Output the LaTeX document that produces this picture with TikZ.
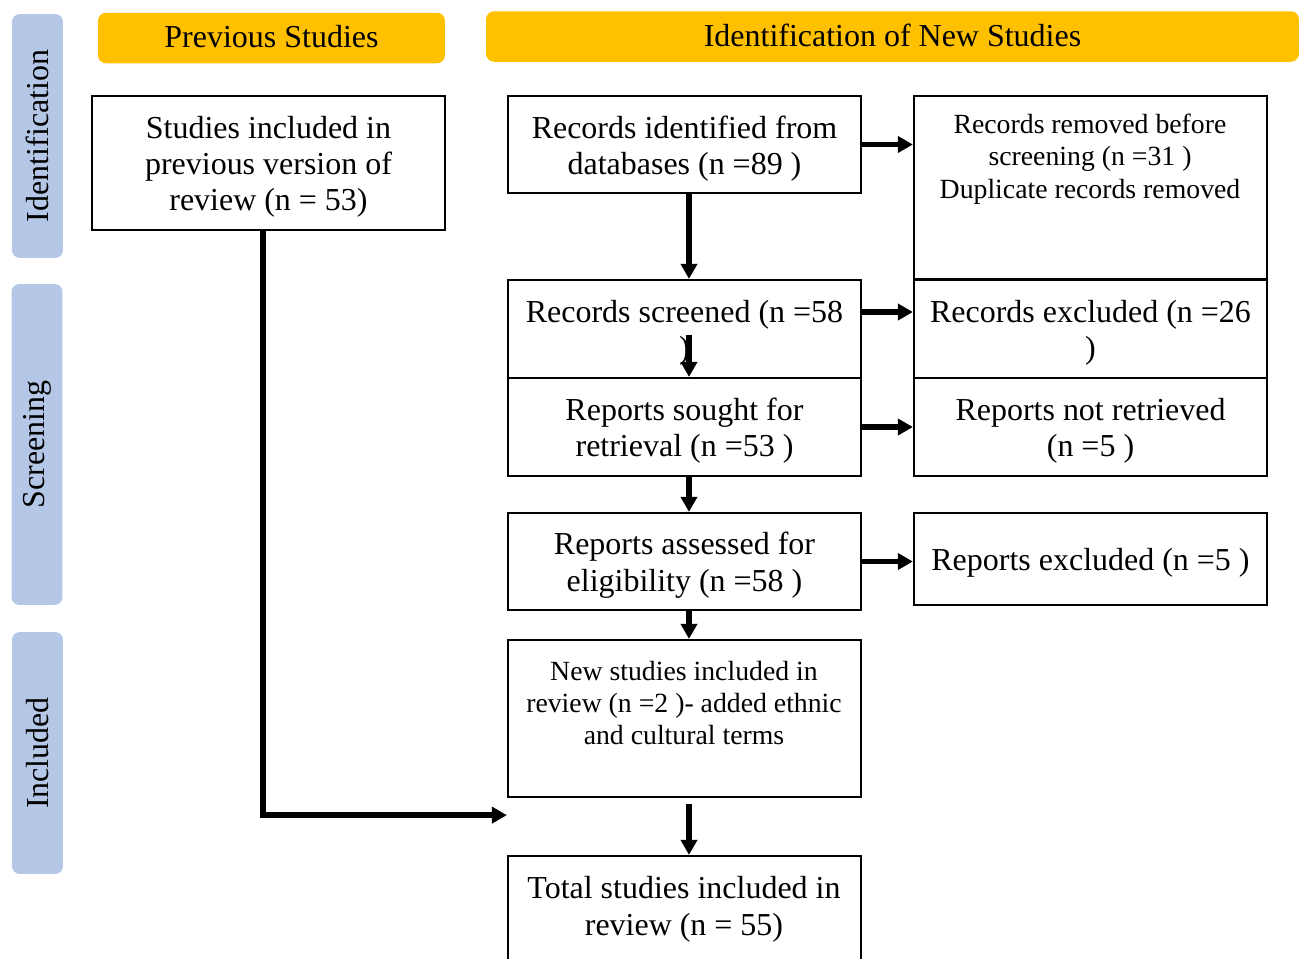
\documentclass[tikz,border=0pt]{standalone}
\usepackage{fontspec}
\setmainfont{Liberation Serif}
\usetikzlibrary{arrows.meta}

\definecolor{headyellow}{RGB}{255,192,0}
\definecolor{sideblue}{RGB}{180,199,231}

\def\BW{7.06cm}
\def\L{684.5}
\def\R{1090.5}
\def\fs{\rule{0pt}{17pt}}

\begin{document}
\begin{tikzpicture}[x=0.02cm,y=-0.02cm]
    \tikzset{
      box/.style={draw,line width=1.3pt,minimum width=\BW,inner sep=0pt,
        align=center,font=\fontsize{18.2}{20.5}\selectfont},
      smalltext/.style={align=center,inner sep=0pt,
        font=\fontsize{15.8}{18.4}\selectfont},
      boxtext/.style={align=center,inner sep=0pt,
        font=\fontsize{18.2}{21.2}\selectfont},
      head/.style={fill=headyellow,rounded corners=4.5pt,minimum height=1.01cm,
        font=\fontsize{18.2}{20.5}\selectfont},
      side/.style={fill=sideblue,rounded corners=4.5pt,rotate=90,minimum height=1.02cm,
        font=\fontsize{18.2}{20.5}\selectfont},
      flow/.style={-{Triangle[length=0.3cm,width=0.32cm]},line width=3.2pt}
    }
    \useasboundingbox (0,0) rectangle (1299,958);

    % phase bars
    \node[side,minimum width=4.88cm] (ident) at (37.5,136) {Identification};
    \node[side,minimum width=6.42cm] (screen) at (37,444.5) {Screening};
    \node[side,minimum width=4.84cm] (incl) at (37.5,753) {Included};

    % headers
    \node[head,minimum width=6.94cm] (prevhead) at (271.5,38) {\raisebox{2pt}{Previous Studies}};
    \node[head,minimum width=16.26cm] (newhead) at (892.5,36.5) {\raisebox{2pt}{Identification of New Studies}};

    % previous studies
    \node[box,minimum height=2.68cm] (prev) at (268.5,163)
      {\fs Studies included in\\previous version of\\review (n = 53)};

    % new studies
    \node[box,minimum height=1.94cm] (db) at (\L,144.5)
      {\fs Records identified from\\databases (n =89 )};
    \node[box,minimum height=3.66cm] (removed) at (\R,187.5) {};
    \node[smalltext] (removedtext) at (1090,159)
      {Records removed before\\screening (n =31 )\\Duplicate records removed};

    \node[box,minimum height=1.96cm] (screened) at (\L,329)
      {\fs Records screened (n =58\\)};
    \node[box,minimum height=1.96cm] (excluded) at (\R,329)
      {\fs Records excluded (n =26\\)};

    \node[box,minimum height=1.96cm] (sought) at (\L,427)
      {\fs Reports sought for\\retrieval (n =53 )};
    \node[box,minimum height=1.96cm] (notretr) at (\R,427)
      {\fs Reports not retrieved\\(n =5 )};

    \node[box,minimum height=1.94cm] (assessed) at (\L,561.5)
      {\fs Reports assessed for\\eligibility (n =58 )};
    \node[box,minimum height=1.84cm] (repexcl) at (\R,559)
      {\fs Reports excluded (n =5 )};

    \node[box,minimum height=3.14cm] (newinc) at (\L,718.5) {};
    \node[smalltext] (newinctext) at (684,703)
      {New studies included in\\review (n =2 )- added ethnic\\and cultural terms};

    \node[box,minimum height=2.4cm] (total) at (\L,916) {};
    \node[boxtext] (totaltext) at (684,909)
      {Total studies included in\\review (n = 55)};

    \coordinate (join) at ([yshift=-0.34cm]newinc.south west);

    % connectors
    \draw[flow] ([xshift=0.09cm]db.south) -- ([xshift=0.09cm]screened.north);
    \draw[flow] (db.east) -- (db.east -| removed.west);
    \draw[flow] ([xshift=0.09cm,yshift=-0.12cm]screened.center) -- ([xshift=0.09cm]sought.north);
    \draw[flow] ([yshift=0.34cm]screened.east) -- ([yshift=0.34cm]excluded.west);
    \draw[flow] ([xshift=0.09cm]sought.south) -- ([xshift=0.09cm]assessed.north);
    \draw[flow] (sought.east) -- (notretr.west);
    \draw[flow] (assessed.east) -- (assessed.east -| repexcl.west);
    \draw[flow] ([xshift=0.09cm]assessed.south) -- ([xshift=0.09cm]newinc.north);
    \draw[flow] ([xshift=0.09cm,yshift=-0.12cm]newinc.south) -- ([xshift=0.09cm]total.north);
    \draw[flow] ([xshift=-0.11cm]prev.south) |- (join);
  \end{tikzpicture}
\end{document}
